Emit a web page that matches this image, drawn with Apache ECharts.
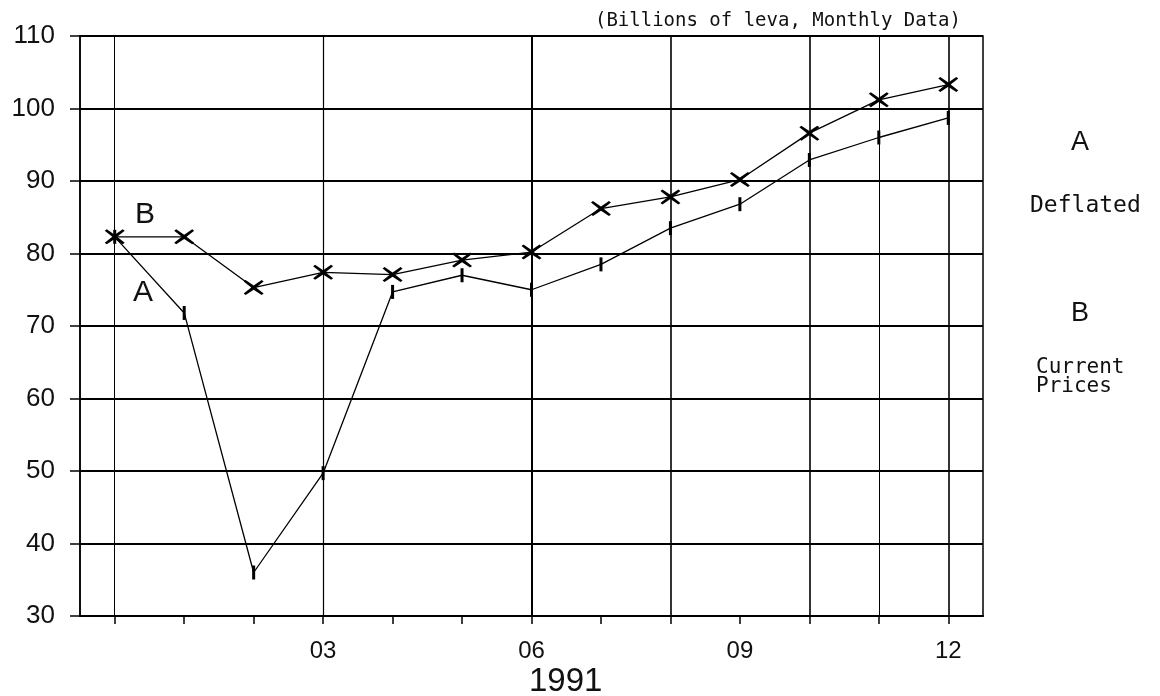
<!DOCTYPE html>
<html>
<head>
<meta charset="utf-8">
<title>Billions of leva, Monthly Data</title>
<script src="https://cdn.jsdelivr.net/npm/echarts@6/dist/echarts.min.js"></script>
<style>
	html, body { margin: 0; padding: 0; background: #fff; }
	#chart { width: 1160px; height: 696px; }
</style>
</head>
<body>
<div id="chart"></div>
<script>
// months, 00 = Dec 1990
var months = ['00', '01', '02', '03', '04', '05', '06', '07', '08', '09', '10', '11', '12'];
var labeledMonths = ['03', '06', '09', '12'];
// A: deflated
var deflated = [82.3, 71.8, 36.0, 49.7, 74.7, 77.0, 75.0, 78.5, 83.5, 86.8, 92.9, 96.0, 98.7];
// B: current prices
var current = [82.3, 82.3, 75.3, 77.4, 77.1, 79.1, 80.2, 86.2, 87.8, 90.2, 96.6, 101.2, 103.3];
// months that carry a full vertical grid line
var gridMonths = ['00', '03', '06', '08', '10', '11', '12'];
var gridWidths = [1, 1.2, 2, 1.6, 1.6, 1, 1.6];

var plotFont = 'Liberation Sans';
var monoFont = 'DejaVu Sans Mono';
// X shaped marker
var crossPath = 'path://M0,1L1,0L5,3.6L9,0L10,1L6.2,5L10,9L9,10L5,6.4L1,10L0,9L3.8,5Z';

var vLines = [];
for (var i = 0; i < gridMonths.length; i++) {
	vLines.push({
		xAxis: gridMonths[i],
		lineStyle: { color: '#000', width: gridWidths[i], type: 'solid' }
	});
}

var chart = echarts.init(document.getElementById('chart'));
var option = {
	backgroundColor: '#fff',
	animation: false,
	title: [
		{
			text: '(Billions of leva, Monthly Data)',
			right: 194,
			top: 7,
			textStyle: { fontFamily: monoFont, fontSize: 19, fontWeight: 'normal', color: '#111' }
		},
		{
			text: '1991',
			left: 524,
			top: 660,
			textStyle: { fontFamily: plotFont, fontSize: 33, fontWeight: 'normal', color: '#111' }
		}
	],
	grid: {
		left: 80,
		right: 177,
		top: 36,
		bottom: 80,
		show: true,
		borderColor: '#000',
		borderWidth: 1.5
	},
	xAxis: {
		type: 'category',
		data: months,
		boundaryGap: true,
		axisLine: { lineStyle: { color: '#000', width: 2 } },
		axisTick: { show: true, alignWithLabel: true, interval: 0, length: 8, lineStyle: { color: '#000', width: 1.5 } },
		axisLabel: {
			interval: function(index, value) {
				return labeledMonths.indexOf(value) >= 0;
			},
			margin: 23,
			fontFamily: plotFont,
			fontSize: 24,
			color: '#111'
		},
		splitLine: { show: false }
	},
	yAxis: {
		type: 'value',
		min: 30,
		max: 110,
		interval: 10,
		axisLine: { show: true, lineStyle: { color: '#000', width: 1.5 } },
		axisTick: { show: true, length: 10, lineStyle: { color: '#000', width: 1.5 } },
		axisLabel: { margin: 25, fontFamily: plotFont, fontSize: 26, color: '#111' },
		splitLine: { show: true, lineStyle: { color: '#000', width: 1.8 } }
	},
	graphic: [
		{ type: 'text', left: 135, top: 200, style: { text: 'B', fontFamily: plotFont, fontSize: 30, fill: '#111' } },
		{ type: 'text', left: 133, top: 278, style: { text: 'A', fontFamily: plotFont, fontSize: 30, fill: '#111' } },
		{ type: 'text', left: 1071, top: 129, style: { text: 'A', fontFamily: plotFont, fontSize: 27, fill: '#111' } },
		{ type: 'text', left: 1030, top: 195, style: { text: 'Deflated', fontFamily: monoFont, fontSize: 23, fill: '#111' } },
		{ type: 'text', left: 1071, top: 300, style: { text: 'B', fontFamily: plotFont, fontSize: 27, fill: '#111' } },
		{ type: 'text', left: 1036, top: 357, style: { text: 'Current', fontFamily: monoFont, fontSize: 21, fill: '#111' } },
		{ type: 'text', left: 1036, top: 376, style: { text: 'Prices', fontFamily: monoFont, fontSize: 21, fill: '#111' } }
	],
	series: [
		{
			name: 'Deflated',
			type: 'line',
			data: deflated,
			symbol: 'rect',
			symbolSize: [3, 14],
			lineStyle: { color: '#000', width: 1.3 },
			itemStyle: { color: '#000' },
			markLine: {
				silent: true,
				symbol: 'none',
				label: { show: false },
				data: vLines
			},
			z: 3
		},
		{
			name: 'Current Prices',
			type: 'line',
			data: current,
			symbol: crossPath,
			symbolSize: [20, 15],
			lineStyle: { color: '#000', width: 1.3 },
			itemStyle: { color: '#000' },
			z: 4
		}
	]
};
chart.setOption(option);
</script>
</body>
</html>
